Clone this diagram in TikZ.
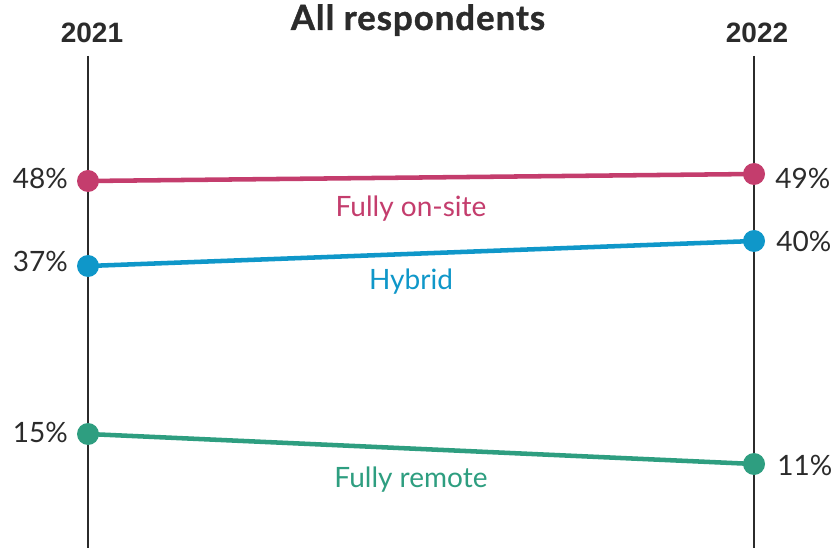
\documentclass[tikz,border=0pt]{standalone}
\usepackage{fontspec}
\setmainfont{Lato}
\newfontfamily\yearfont{Liberation Sans}
\newfontfamily\titlefont[LetterSpace=3]{Lato}
\definecolor{onsite}{HTML}{C43D6D}
\definecolor{hybrid}{HTML}{0F97C9}
\definecolor{remote}{HTML}{2E9E80}
\definecolor{txt}{HTML}{2B2B2B}
\begin{document}
\begin{tikzpicture}[x=0.75pt,y=-0.75pt,
  dot/.style={circle,fill=#1,minimum size=16.5pt,inner sep=0pt},
  trend/.style={draw=#1,line width=3.4pt},
  pct/.style={text=txt,inner sep=0pt,font=\fontsize{21}{24}\selectfont},
  cat/.style={text=#1,inner sep=0pt,anchor=base,font=\fontsize{21}{24}\selectfont},
  yearlbl/.style={text=txt,inner sep=0pt,anchor=base,font=\yearfont\bfseries\fontsize{21}{24}\selectfont},
  titlelbl/.style={text=txt,inner sep=0pt,anchor=base,font=\titlefont\bfseries\fontsize{26}{28}\selectfont\addfontfeature{FakeBold=1.2}},
  axis/.style={draw=txt,line width=1.1pt}]
\useasboundingbox[fill=white] (0,0) rectangle (834,548);
% axes
\coordinate (aT) at (88,56); \coordinate (aB) at (88,548);
\coordinate (bT) at (754,56); \coordinate (bB) at (754,548);
\draw[axis] (aT) -- (aB);
\draw[axis] (bT) -- (bB);
% headings
\node[yearlbl] (y1) at (92,43) {2021};
\node[yearlbl] (y2) at (757,43) {2022};
\node[titlelbl] (title) at (418,30) {All respondents};
% dots
\node[dot=onsite] (o1) at (88,181) {};
\node[dot=onsite] (o2) at (754,174) {};
\node[dot=hybrid] (h1) at (88,266) {};
\node[dot=hybrid] (h2) at (754,241) {};
\node[dot=remote] (r1) at (88,434) {};
\node[dot=remote] (r2) at (754,464) {};
% trend lines
\draw[trend=onsite] (o1.center) -- (o2.center);
\draw[trend=hybrid] (h1.center) -- (h2.center);
\draw[trend=remote] (r1.center) -- (r2.center);
% percentages
\node[pct,anchor=base east] (p1) at (68,189) {48\%};
\node[pct,anchor=base east] (p2) at (68,272) {37\%};
\node[pct,anchor=base east] (p3) at (68,442) {15\%};
\node[pct,anchor=base west] (q1) at (775,189) {49\%};
\node[pct,anchor=base west] (q2) at (776,252) {40\%};
\node[pct,anchor=base west] (q3) at (777,475) {11\%};
% category labels
\node[cat=onsite] (c1) at (411,217) {Fully on-site};
\node[cat=hybrid] (c2) at (411,290) {Hybrid};
\node[cat=remote] (c3) at (411,487) {Fully remote};
\end{tikzpicture}
\end{document}
